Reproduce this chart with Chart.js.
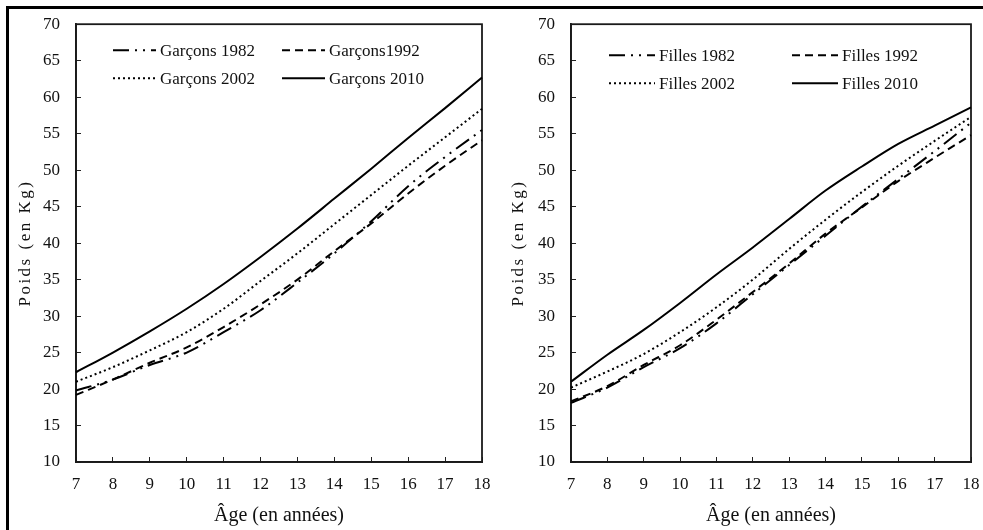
<!DOCTYPE html>
<html lang="fr">
<head>
<meta charset="utf-8">
<title>Poids selon l'âge</title>
<script src="https://cdn.jsdelivr.net/npm/chart.js@4.4.1/dist/chart.umd.min.js"></script>
<style>
  html, body { margin: 0; padding: 0; background: #fff; }
  #wrap { position: relative; width: 983px; height: 530px; overflow: hidden; background: #fff; }
  #frame {
    position: absolute; left: 6px; top: 6px; width: 1000px; height: 600px;
    border-top: 3px solid #000; border-left: 3px solid #000;
  }
  /* canvases run a little past their slot: the tick padding Chart.js reserves sits outside */
  .panel { position: absolute; top: -7px; height: 537px; }
  #boys { left: 0; width: 509px; }
  #girls { left: 490px; width: 508px; }
</style>
</head>
<body>
<div id="wrap">
  <div id="frame"></div>
  <div class="panel" id="boys"><canvas id="boysChart"></canvas></div>
  <div class="panel" id="girls"><canvas id="girlsChart"></canvas></div>
</div>
<script>
/* ---------- data ---------- */
const ages = [7, 8, 9, 10, 11, 12, 13, 14, 15, 16, 17, 18];
const weightTicks = [10, 15, 20, 25, 30, 35, 40, 45, 50, 55, 60, 65, 70];

const boysLabels = ['Garçons 1982', 'Garçons1992', 'Garçons 2002', 'Garçons 2010'];
const boys1982 = [19.8, 21.3, 23.3, 25.0, 27.8, 30.8, 34.6, 38.6, 43.0, 47.8, 51.8, 55.5];
const boys1992 = [19.2, 21.3, 23.6, 25.7, 28.5, 31.6, 35.0, 38.9, 42.7, 46.8, 50.6, 54.1];
const boys2002 = [21.0, 23.0, 25.3, 27.8, 31.0, 34.8, 38.6, 42.6, 46.6, 50.6, 54.5, 58.4];
const boys2010 = [22.3, 25.0, 27.9, 31.0, 34.4, 38.1, 42.0, 46.1, 50.2, 54.4, 58.5, 62.7];

const girlsLabels = ['Filles 1982', 'Filles 1992', 'Filles 2002', 'Filles 2010'];
const girls1982 = [18.1, 20.2, 23.0, 25.6, 29.0, 33.0, 37.0, 41.0, 45.0, 48.8, 52.6, 56.5];
const girls1992 = [18.3, 20.4, 23.3, 26.0, 29.5, 33.3, 37.2, 41.3, 44.9, 48.5, 51.7, 54.8];
const girls2002 = [20.2, 22.4, 24.8, 27.8, 31.2, 35.0, 39.2, 43.2, 47.0, 50.6, 54.0, 57.3];
const girls2010 = [21.0, 24.7, 28.1, 31.8, 35.7, 39.4, 43.3, 47.2, 50.5, 53.6, 56.1, 58.6];

/* ---------- styles ---------- */
const SERIF = "'Liberation Serif', 'Times New Roman', serif";
const INK = '#111';

// one dash pattern per survey year: long dash-dot-dot, dashed, dotted, solid
const dashes = [
  [16, 6, 2, 6, 2, 6],
  [8, 5],
  [2, 3],
  [],
];

/* ---------- plugins ---------- */
// closes the plot area into a full box
const plotBox = {
  id: 'plotBox',
  beforeDatasetsDraw(chart) {
    const { ctx, chartArea: a } = chart;
    ctx.save();
    ctx.strokeStyle = '#1a1a1a';
    ctx.lineWidth = 1.8;
    ctx.strokeRect(a.left, a.top, a.right - a.left, a.bottom - a.top);
    ctx.restore();
  },
};

// 2 x 2 legend inside the plot, with real line samples
const boxLegend = {
  id: 'boxLegend',
  afterDraw(chart, args, opts) {
    const { ctx, chartArea: a } = chart;
    ctx.save();
    ctx.font = `${opts.fontSize}px ${SERIF}`;
    ctx.fillStyle = INK;
    ctx.textBaseline = 'middle';
    chart.data.datasets.forEach((ds, i) => {
      const x = a.left + opts.cols[i % 2];
      const y = a.top + opts.rows[Math.floor(i / 2)];
      ctx.strokeStyle = ds.borderColor;
      ctx.lineWidth = ds.borderWidth;
      ctx.setLineDash(ds.borderDash);
      ctx.beginPath();
      ctx.moveTo(x, y);
      ctx.lineTo(x + opts.lineLen, y);
      ctx.stroke();
      ctx.setLineDash([]);
      ctx.fillText(ds.label, x + opts.lineLen + 4, y + 1);
    });
    ctx.restore();
  },
};

// letter-spaced vertical axis title
const yTitle = {
  id: 'yTitle',
  afterDraw(chart, args, opts) {
    const { ctx, chartArea: a } = chart;
    ctx.save();
    ctx.translate(opts.x, (a.top + a.bottom) / 2);
    ctx.rotate(-Math.PI / 2);
    ctx.font = `${opts.fontSize}px ${SERIF}`;
    ctx.letterSpacing = opts.spacing;
    ctx.fillStyle = INK;
    ctx.textAlign = 'center';
    ctx.textBaseline = 'middle';
    ctx.fillText(opts.text, 0, 0);
    ctx.restore();
  },
};

/* ---------- panel builder ---------- */
function buildPanel(canvasId, labels, series, geo) {
  const datasets = series.map((values, i) => ({
    label: labels[i],
    data: values,
    borderColor: '#000',
    borderWidth: 2,
    borderDash: dashes[i],
    borderCapStyle: 'butt',
    pointRadius: 0,
    fill: false,
    cubicInterpolationMode: 'monotone',
  }));

  return new Chart(document.getElementById(canvasId), {
    type: 'line',
    data: { labels: ages, datasets },
    options: {
      responsive: true,
      maintainAspectRatio: false,
      animation: false,
      events: [],
      layout: { padding: { left: 0, top: 31, right: 27, bottom: 2 } },
      plugins: {
        legend: { display: false },
        tooltip: { enabled: false },
        boxLegend: { cols: geo.legendCols, rows: geo.legendRows, lineLen: geo.lineLen, fontSize: 17 },
        yTitle: { text: 'Poids (en Kg)', x: geo.titleX, fontSize: 17, spacing: '2.5px' },
      },
      scales: {
        x: {
          type: 'category',
          offset: false,
          grid: { display: true, drawOnChartArea: false, drawTicks: true, tickLength: -5, color: '#222' },
          border: { display: true, color: '#1a1a1a', width: 1.8 },
          ticks: { color: INK, font: { family: SERIF, size: 17 }, padding: 17, maxRotation: 0, autoSkip: false },
          title: {
            display: true,
            text: 'Âge (en années)',
            color: INK,
            font: { family: SERIF, size: 20 },
            padding: { top: 0, bottom: 0 },
          },
          afterFit(scale) { scale.height = 66; },
        },
        y: {
          min: 10,
          max: 70,
          grid: { display: true, drawOnChartArea: false, drawTicks: true, tickLength: -5, color: '#222' },
          border: { display: true, color: '#1a1a1a', width: 1.8 },
          ticks: { color: INK, font: { family: SERIF, size: 17 }, padding: 21 },
          afterBuildTicks(scale) { scale.ticks = weightTicks.map(v => ({ value: v })); },
          afterFit(scale) { scale.width = geo.axisWidth; },
        },
      },
    },
    plugins: [plotBox, boxLegend, yTitle],
  });
}

buildPanel('boysChart', boysLabels, [boys1982, boys1992, boys2002, boys2010], {
  axisWidth: 76, titleX: 26,
  legendCols: [37, 206], legendRows: [26, 54], lineLen: 43,
});

buildPanel('girlsChart', girlsLabels, [girls1982, girls1992, girls2002, girls2010], {
  axisWidth: 81, titleX: 29,
  legendCols: [38, 221], legendRows: [31, 59], lineLen: 46,
});
</script>
</body>
</html>
